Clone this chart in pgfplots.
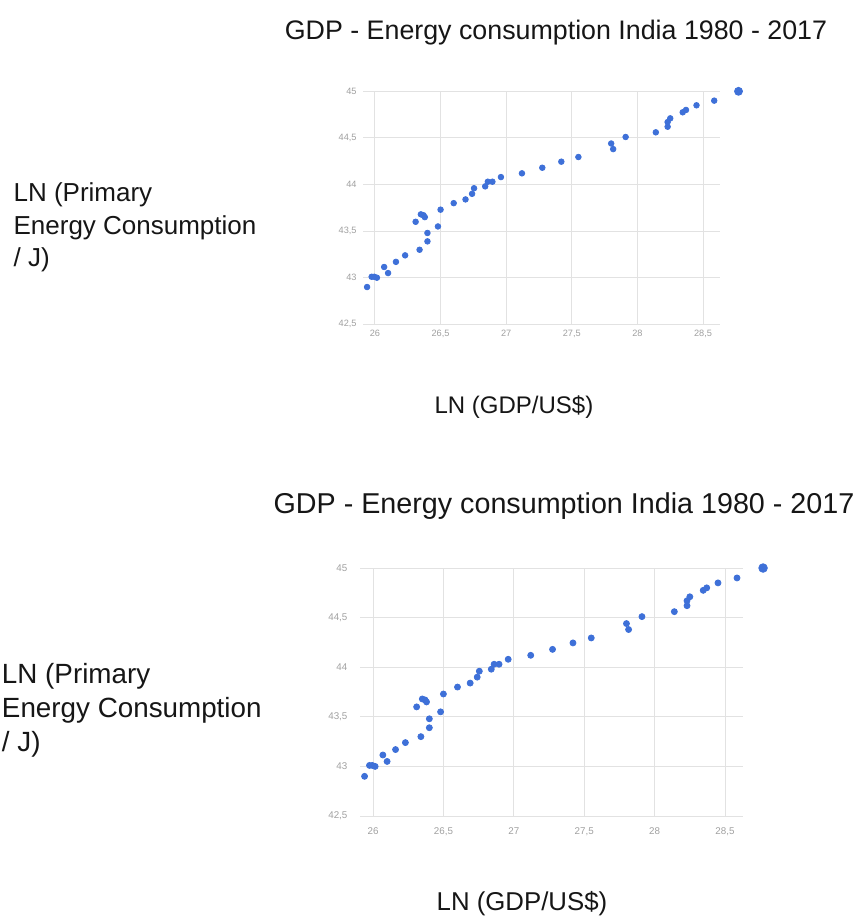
\documentclass[border=0pt]{standalone}
\usepackage{pgfplots}
\pgfplotsset{compat=1.18}
\usepackage{pgfplotstable}
\usepackage{fontspec}
\setmainfont{Liberation Sans}

\definecolor{dotblue}{RGB}{62,112,216}
\definecolor{gridgray}{RGB}{226,226,226}
\definecolor{ticklab}{RGB}{160,160,160}
\definecolor{labtext}{RGB}{22,22,22}

% LN(GDP/US$) vs LN(primary energy / J)
\pgfplotstableread{
x      y
25.94  42.90
25.975 43.01
25.995 43.01
26.015 43.00
26.07  43.115
26.10  43.05
26.16  43.17
26.23  43.24
26.31  43.60
26.34  43.30
26.35  43.68
26.37  43.67
26.38  43.65
26.40  43.48
26.40  43.39
26.48  43.55
26.50  43.73
26.60  43.80
26.69  43.84
26.74  43.90
26.755 43.96
26.84  43.98
26.86  44.03
26.895 44.03
26.96  44.08
27.12  44.12
27.275 44.18
27.42  44.245
27.55  44.295
27.80  44.44
27.815 44.38
27.91  44.51
28.14  44.56
28.23  44.62
28.23  44.67
28.25  44.71
28.345 44.775
28.37  44.80
28.45  44.85
28.585 44.90
}\gdpdata

\pgfplotstableread{
x     y
28.77 45.00
}\gdplast

\pgfplotsset{
  gdpaxis/.style={
    scale only axis,
    clip=false,
    xmin=25.909, xmax=28.629,
    ymin=42.5, ymax=45,
    xtick={26,26.5,27,27.5,28,28.5},
    ytick={42.5,43,43.5,44,44.5,45},
    grid=major,
    major grid style={gridgray, line width=0.5pt},
    axis line style={draw=none},
    major tick length=0pt,
    tick label style={text=ticklab, inner sep=0pt},
    xticklabel style={yshift=-2.6pt},
    yticklabel style={xshift=-3pt},
    /pgf/number format/use comma,
    /pgf/number format/assume math mode=true,
  },
}

\begin{document}
\begin{tikzpicture}

% ---- upper copy ----
\begin{axis}[gdpaxis,
    at={(181.5pt,-162.15pt)}, anchor=south west,
    width=178.5pt, height=116.5pt,
    tick label style={font=\fontsize{4.6}{5}\selectfont},
]
\addplot[only marks, mark=*, mark size=1.4pt, mark options={draw=dotblue, fill=dotblue}]
  table[x=x, y=y] {\gdpdata};
\addplot[only marks, mark=*, mark size=2pt, mark options={draw=dotblue, fill=dotblue}]
  table[x=x, y=y] {\gdplast};
\end{axis}

\node[anchor=base, inner sep=0pt, text=labtext, font=\fontsize{13.4}{16}\selectfont]
  at (278pt,-19.7pt) {GDP - Energy consumption India 1980 - 2017};
\node[anchor=base, inner sep=0pt, text=labtext, font=\fontsize{12}{14}\selectfont]
  at (257pt,-206.6pt) {LN (GDP/US\$)};
\begin{scope}[every node/.style={anchor=base west, inner sep=0pt, text=labtext, font=\fontsize{13}{15}\selectfont}]
  \node at (6.6pt,-100.8pt) {LN (Primary};
  \node at (6.6pt,-117pt) {Energy Consumption};
  \node at (6.6pt,-133.3pt) {/ J)};
\end{scope}

% ---- lower copy ----
\begin{axis}[gdpaxis,
    at={(180.1pt,-408pt)}, anchor=south west,
    width=191.5pt, height=124pt,
    tick label style={font=\fontsize{4.9}{5.4}\selectfont},
    xticklabel style={yshift=-2.8pt},
    yticklabel style={xshift=-3.2pt},
]
\addplot[only marks, mark=*, mark size=1.5pt, mark options={draw=dotblue, fill=dotblue}]
  table[x=x, y=y] {\gdpdata};
\addplot[only marks, mark=*, mark size=2.15pt, mark options={draw=dotblue, fill=dotblue}]
  table[x=x, y=y] {\gdplast};
\end{axis}

\node[anchor=base, inner sep=0pt, text=labtext, font=\fontsize{14.35}{17}\selectfont]
  at (282pt,-256.5pt) {GDP - Energy consumption India 1980 - 2017};
\node[anchor=base, inner sep=0pt, text=labtext, font=\fontsize{12.9}{15}\selectfont]
  at (261pt,-455pt) {LN (GDP/US\$)};
\begin{scope}[every node/.style={anchor=base west, inner sep=0pt, text=labtext, font=\fontsize{13.9}{16}\selectfont}]
  \node at (0.8pt,-341.6pt) {LN (Primary};
  \node at (0.8pt,-358.5pt) {Energy Consumption};
  \node at (0.8pt,-375.5pt) {/ J)};
\end{scope}

\pgfresetboundingbox
\useasboundingbox (0,0) rectangle (430.5pt,-459pt);
\end{tikzpicture}
\end{document}
